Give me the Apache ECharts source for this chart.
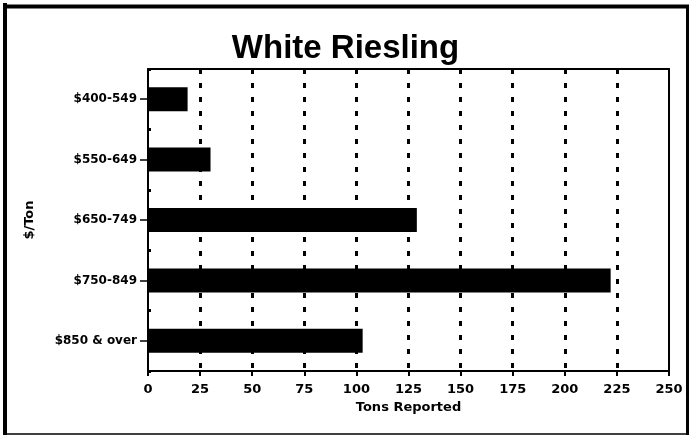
<!DOCTYPE html>
<html>
<head>
<meta charset="utf-8">
<script src="https://cdn.jsdelivr.net/npm/echarts@6/dist/echarts.min.js"></script>
<style>
html, body { margin: 0; padding: 0; background: #fff; }
#chart { width: 691px; height: 436px; }
</style>
</head>
<body>
<div id="chart"></div>
<script>
// price bands, top to bottom
const priceBands = ['$400-549', '$550-649', '$650-749', '$750-849', '$850 & over'];
// tons reported per band
const tonsReported = [19, 30, 129, 222, 103];
// x axis
const xMin = 0, xMax = 250, xStep = 25;

const chart = echarts.init(document.getElementById('chart'));
const titleFont = '"Liberation Sans", Arial, sans-serif';
const labelFont = '"DejaVu Sans", sans-serif';

chart.setOption({
  animation: false,
  backgroundColor: '#fff',
  title: {
    text: 'White Riesling',
    left: 'center',
    top: 27,
    textStyle: { fontFamily: titleFont, fontWeight: 900, fontSize: 33, color: '#000' }
  },
  grid: { left: 148, right: 22, top: 69, bottom: 65 },
  xAxis: [{
    type: 'value',
    min: xMin, max: xMax, interval: xStep,
    name: 'Tons Reported',
    nameLocation: 'middle',
    nameGap: 29,
    nameTextStyle: { fontFamily: labelFont, fontWeight: 'bold', fontSize: 13, color: '#000' },
    axisLine: { show: true, lineStyle: { color: '#000', width: 2 } },
    axisTick: { show: true, length: 5, lineStyle: { color: '#000', width: 2 } },
    axisLabel: { fontFamily: labelFont, fontWeight: 'bold', fontSize: 13, color: '#000', margin: 12 },
    splitLine: { show: true, showMinLine: false, showMaxLine: false, lineStyle: { color: '#000', width: 3, type: [5, 9] } }
  }, {
    // top frame line of the plot
    type: 'value',
    position: 'top',
    min: xMin, max: xMax, interval: xStep,
    axisLine: { show: true, lineStyle: { color: '#000', width: 2 } },
    axisTick: { show: false },
    axisLabel: { show: false },
    splitLine: { show: false }
  }],
  yAxis: [{
    type: 'category',
    data: priceBands,
    inverse: true,
    name: '$/Ton',
    nameLocation: 'middle',
    nameGap: 112,
    nameTextStyle: { fontFamily: labelFont, fontWeight: 'bold', fontSize: 13, color: '#000' },
    axisLine: { show: true, lineStyle: { color: '#000', width: 2 } },
    axisTick: { show: true, alignWithLabel: true, length: 8, lineStyle: { color: '#000', width: 1.5 } },
    axisLabel: { fontFamily: labelFont, fontWeight: 'bold', fontSize: 12, color: '#000', margin: 11 }
  }, {
    // small boundary ticks inside the left axis
    type: 'category',
    data: priceBands,
    inverse: true,
    position: 'left',
    axisLine: { show: false },
    axisTick: { show: true, inside: true, length: 3, lineStyle: { color: '#000', width: 3 } },
    axisLabel: { show: false }
  }, {
    // right frame line of the plot
    type: 'category',
    data: priceBands,
    inverse: true,
    position: 'right',
    axisLine: { show: true, lineStyle: { color: '#000', width: 2 } },
    axisTick: { show: false },
    axisLabel: { show: false }
  }],
  series: [{
    type: 'bar',
    data: tonsReported,
    barWidth: 24,
    itemStyle: { color: '#000' },
    silent: true
  }],
  graphic: [
    { type: 'line', shape: { x1: 5, y1: 3, x2: 5, y2: 435 }, style: { stroke: '#000', lineWidth: 4 } },
    { type: 'line', shape: { x1: 3, y1: 6.5, x2: 689, y2: 6.5 }, style: { stroke: '#000', lineWidth: 4 } },
    { type: 'line', shape: { x1: 687.5, y1: 5, x2: 687.5, y2: 435 }, style: { stroke: '#000', lineWidth: 3 } },
    { type: 'line', shape: { x1: 5, y1: 434, x2: 689, y2: 434 }, style: { stroke: '#000', lineWidth: 1.5 } }
  ]
});
</script>
</body>
</html>
